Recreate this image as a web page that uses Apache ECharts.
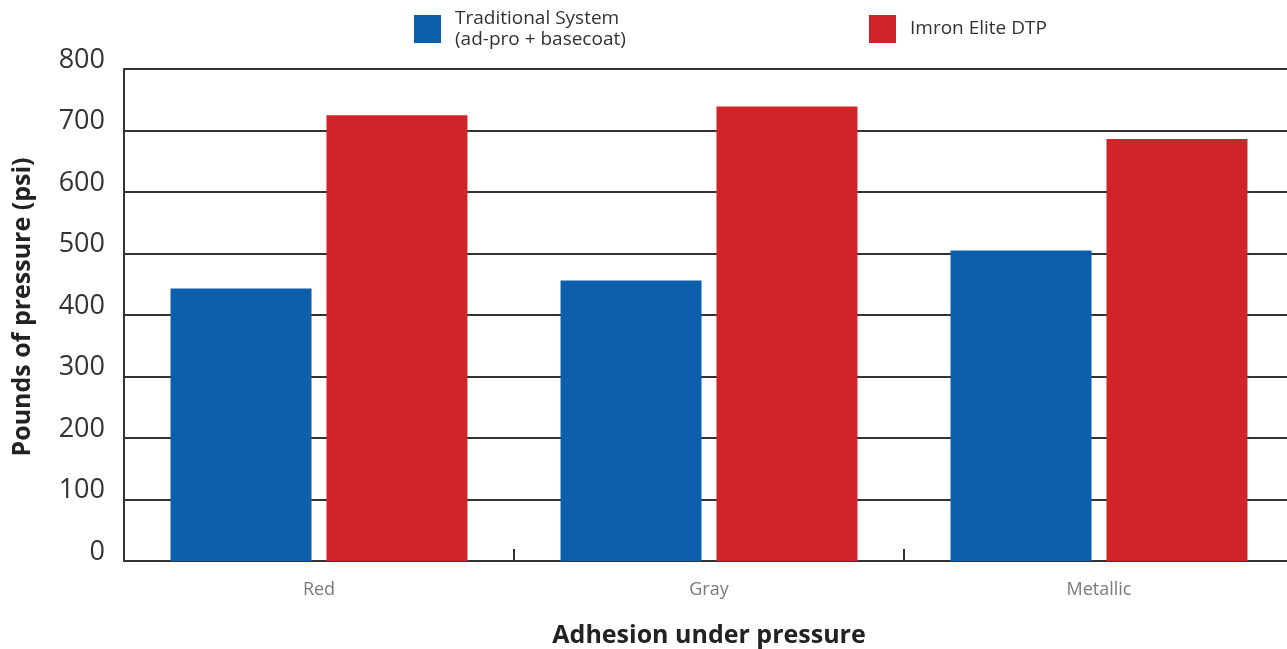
<!DOCTYPE html>
<html>
<head>
<meta charset="utf-8">
<script src="https://cdn.jsdelivr.net/npm/echarts@6/dist/echarts.min.js"></script>
<style>
html,body{margin:0;padding:0;background:#fff;}
#chart{width:1287px;height:649px;}
</style>
</head>
<body>
<div id="chart"></div>
<script>
const categories = ['Red', 'Gray', 'Metallic'];
const seriesNames = ['Traditional System\n(ad-pro + basecoat)', 'Imron Elite DTP'];
const traditional = [443, 456, 505];
const imron = [725, 739, 686];
const yTicks = [0, 100, 200, 300, 400, 500, 600, 700, 800];
const xTitle = 'Adhesion under pressure';
const yTitle = 'Pounds of pressure (psi)';

const FONT = '"Open Sans", "Noto Sans", sans-serif';
const BLUE = '#0b5fad';
const RED = '#d1232a';

const chart = echarts.init(document.getElementById('chart'));
chart.setOption({
  animation: false,
  backgroundColor: '#fff',
  textStyle: { fontFamily: FONT },
  legend: [
    {
      data: [seriesNames[0]], left: 414, top: 8, padding: 0,
      itemWidth: 27, itemHeight: 28, icon: 'rect', selectedMode: false,
      textStyle: { fontFamily: FONT, fontSize: 19, color: '#333', lineHeight: 21, padding: [0, 0, 0, 9] }
    },
    {
      data: [seriesNames[1]], left: 869, top: 15, padding: 0,
      itemWidth: 27, itemHeight: 28, icon: 'rect', selectedMode: false,
      textStyle: { fontFamily: FONT, fontSize: 19, color: '#333', lineHeight: 21, padding: [0, 0, 0, 9] }
    }
  ],
  grid: { left: 124, top: 69, width: 1170, height: 492, containLabel: false, outerBoundsMode: 'none' },
  xAxis: {
    type: 'category',
    data: categories,
    name: xTitle,
    nameLocation: 'middle',
    nameGap: 62,
    nameTextStyle: { fontFamily: FONT, fontSize: 25, fontWeight: 'bold', color: '#222' },
    axisLine: { show: true, lineStyle: { color: '#333', width: 2 } },
    axisTick: { show: true, inside: true, length: 12, lineStyle: { color: '#333', width: 2 } },
    axisLabel: { margin: 20, fontSize: 18, color: '#7a7a7a', fontFamily: FONT }
  },
  yAxis: {
    type: 'value',
    min: 0, max: 800, interval: 100,
    name: yTitle,
    nameLocation: 'middle',
    nameGap: 89,
    nameTextStyle: { fontFamily: FONT, fontSize: 25, fontWeight: 'bold', color: '#222', padding: [0, 0, 0, 16] },
    axisLine: { show: true, lineStyle: { color: '#333', width: 2 } },
    axisTick: { show: false },
    axisLabel: {
      margin: 19, fontSize: 27, color: '#333', fontFamily: FONT,
      verticalAlign: 'bottom', lineHeight: 18,
      formatter: function (v) { return yTicks.indexOf(v) >= 0 ? String(v) : ''; }
    },
    splitLine: { show: true, lineStyle: { color: '#333', width: 2 } }
  },
  series: [
    {
      name: seriesNames[0], type: 'bar', data: traditional,
      barWidth: 141, barGap: '10.6%',
      itemStyle: { color: BLUE }
    },
    {
      name: seriesNames[1], type: 'bar', data: imron,
      barWidth: 141,
      itemStyle: { color: RED }
    }
  ]
});
</script>
</body>
</html>
